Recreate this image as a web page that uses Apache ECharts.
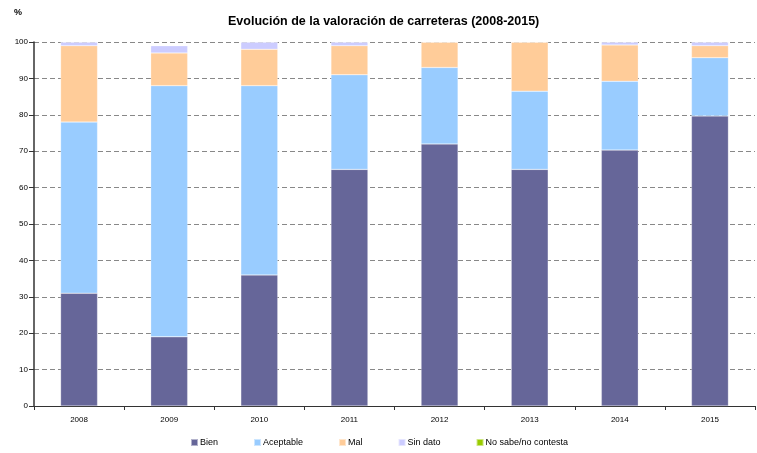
<!DOCTYPE html>
<html>
<head>
<meta charset="utf-8">
<script src="https://cdn.jsdelivr.net/npm/echarts@6/dist/echarts.min.js"></script>
<style>
  html, body { margin: 0; padding: 0; background: #fff; }
  #chart { width: 757px; height: 453px; }
</style>
</head>
<body>
<div id="chart"></div>
<script>
// Años evaluados
const years = ['2008', '2009', '2010', '2011', '2012', '2013', '2014', '2015'];

// Porcentaje de respuestas por categoría
const bien        = [31, 19, 36, 65, 72, 65, 70.3, 79.7];
const aceptable   = [47, 69, 52, 26, 21, 21.5, 18.9, 16];
const mal         = [21, 9, 10, 8, 7, 13.5, 10, 3.3];
const sinDato     = [1, 2, 2, 1, 0, 0, 0.8, 1];
const noSabe      = [0, 0, 0, 0, 0, 0, 0, 0];

const yTicks = [0, 10, 20, 30, 40, 50, 60, 70, 80, 90, 100];

const FONT = '"Liberation Sans", Arial, sans-serif';

const seriesDefs = [
  { name: 'Bien', data: bien, color: '#666699' },
  { name: 'Aceptable', data: aceptable, color: '#99ccff' },
  { name: 'Mal', data: mal, color: '#ffcc99' },
  { name: 'Sin dato', data: sinDato, color: '#ccccff' },
  { name: 'No sabe/no contesta', data: noSabe, color: '#99cc00' }
];

const chart = echarts.init(document.getElementById('chart'), null, { renderer: 'canvas' });

chart.setOption({
  animation: false,
  backgroundColor: '#ffffff',
  title: {
    text: 'Evolución de la valoración de carreteras (2008-2015)',
    left: 223,
    top: 10,
    textStyle: { fontFamily: FONT, fontSize: 12.5, fontWeight: 'bold', color: '#000' }
  },
  graphic: [{
    type: 'text',
    left: 14,
    top: 8,
    style: { text: '%', font: 'bold 9px ' + FONT, fill: '#000' }
  }],
  legend: {
    left: 185,
    top: 433,
    itemWidth: 7,
    itemHeight: 7,
    itemGap: 35,
    icon: 'rect',
    textStyle: { fontFamily: FONT, fontSize: 9, color: '#000', padding: [0, 0, 0, -3] },
    data: seriesDefs.map(s => s.name)
  },
  grid: { left: 34, right: 2, top: 42, bottom: 47 },
  xAxis: {
    type: 'category',
    data: years,
    axisLine: { lineStyle: { color: '#333', width: 1 } },
    axisTick: { show: true, alignWithLabel: false, length: 4, lineStyle: { color: '#333' } },
    axisLabel: { fontFamily: FONT, fontSize: 8, color: '#000', margin: 10 }
  },
  yAxis: {
    type: 'value',
    min: 0,
    max: 100,
    interval: 10,
    axisLine: { show: true, lineStyle: { color: '#333', width: 1.5 } },
    axisTick: { show: true, length: 5, lineStyle: { color: '#333' } },
    axisLabel: {
      fontFamily: FONT, fontSize: 8, color: '#000', margin: 6,
      formatter: v => (yTicks.includes(v) ? String(v) : '')
    },
    splitLine: { show: true, lineStyle: { color: '#888', type: [5, 3], width: 1 } }
  },
  series: seriesDefs.map(s => ({
    name: s.name,
    type: 'bar',
    stack: 'total',
    data: s.data,
    barWidth: '41%',
    itemStyle: { color: s.color, borderColor: 'rgba(255,255,255,0.5)', borderWidth: 0.5 }
  }))
});
</script>
</body>
</html>
